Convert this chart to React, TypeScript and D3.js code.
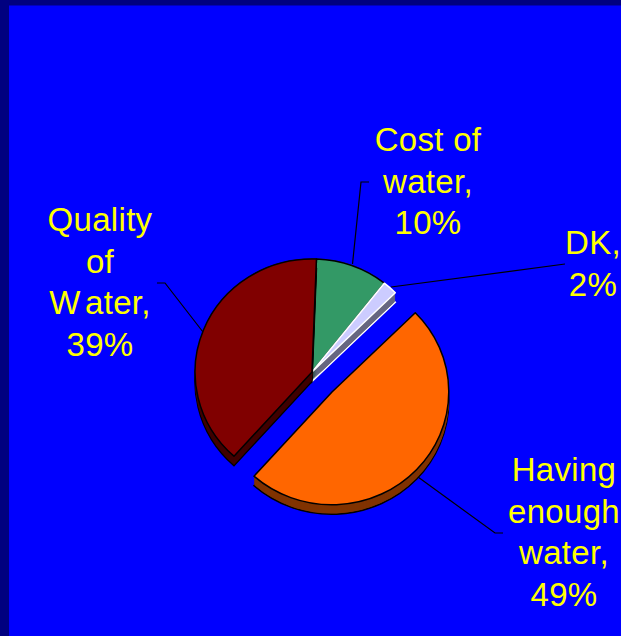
import React from "react";
import * as d3 from "d3";

const categories = ["Having enough water", "Quality of Water", "Cost of water", "DK"];
const values = [49, 39, 10, 2];
const topColors = ["#ff6600", "#800000", "#339966", "#ccccff"];
const sideColors = ["#803300", "#400000", "#1a4d33", "#666680"];
const strokes = ["#000000", "#000000", "#000000", "#ffffff"];
const exploded = [1, 0, 0, 0];
const labelLines = [
  ["Having", "enough", "water,", "49%"],
  ["Quality", "of", "W ater,", "39%"],
  ["Cost of", "water,", "10%"],
  ["DK,", "2%"],
];
const labelX = [564, 100, 428, 593];
const labelY = [481, 231, 151, 254];
const leaders = [
  [[418, 477], [495, 533], [503, 533]],
  [[203, 332], [165, 283], [157, 283]],
  [[352.5, 264], [361, 182], [369, 182]],
  [[391, 287], [565, 264]],
];

const W = 621, H = 636;
const cx = 312, cy = 372, rx = 117, ry = 113, depth = 9.5, explode = 20;
const drawOrder = [2, 3, 1, 0];

export default function App() {
  const start = (45.4 * Math.PI) / 180;
  const pie = d3.pie<number>().sort(null).startAngle(start).endAngle(start + 2 * Math.PI);
  const arcs = pie(values);
  const arc = d3.arc<d3.PieArcDatum<number>>().innerRadius(0).outerRadius(1);
  const line = d3.line();
  const layers = d3.range(depth, 0, -1);
  return (
    <svg width={W} height={H} style={{ position: "fixed", left: 0, top: 0, display: "block" }}>
      <rect x={0} y={0} width={W} height={H} fill="#000080" />
      <rect x={9} y={5.5} width={W - 9} height={H - 5.5} fill="#0000ff" />
      {leaders.map((l, i) => (
        <path key={i} d={line(l as [number, number][]) ?? ""} fill="none" stroke="#000" strokeWidth={1.2} />
      ))}
      {drawOrder.map((i) => {
        const d = arc(arcs[i]) ?? "";
        const ox = cx + exploded[i] * explode;
        const oy = cy + exploded[i] * explode;
        const tf = (dy: number) => `translate(${ox},${oy + dy}) scale(${rx},${ry})`;
        return (
          <g key={categories[i]}>
            <path d={d} transform={tf(depth)} fill={sideColors[i]} stroke={strokes[i]} strokeWidth={1.5} vectorEffect="non-scaling-stroke" />
            {layers.map((k) => (
              <path key={k} d={d} transform={tf(k - 1)} fill={sideColors[i]} stroke="none" />
            ))}
            <path d={d} transform={tf(0)} fill={topColors[i]} stroke={strokes[i]} strokeWidth={1.5} vectorEffect="non-scaling-stroke" strokeLinejoin="round" />
          </g>
        );
      })}
      {labelLines.map((ls, i) => (
        <text key={i} fill="#ffff00" fontFamily="'Liberation Sans', Arial, sans-serif" fontSize={33} textAnchor="middle" letterSpacing={0.3}>
          {ls.map((t, j) => (
            <tspan key={j} x={labelX[i]} y={labelY[i] + j * 41.5} wordSpacing={t === "W ater," ? -5 : 0} style={{ whiteSpace: "pre" }}>{t}</tspan>
          ))}
        </text>
      ))}
    </svg>
  );
}
